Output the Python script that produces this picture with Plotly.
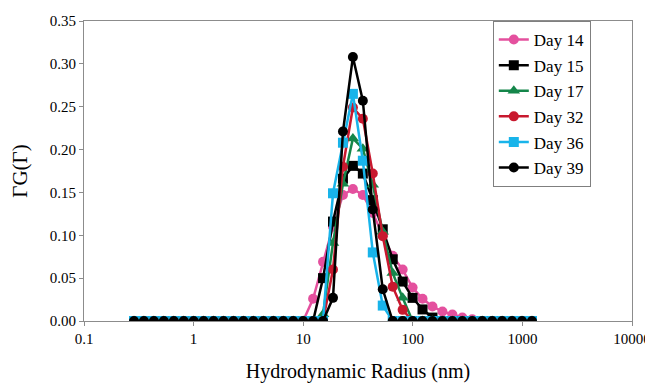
import plotly.graph_objects as go

# Hydrodynamic radius grid (nm), log spaced
radius_nm = [0.286, 0.352, 0.434, 0.535, 0.660, 0.813, 1.002, 1.235, 1.522, 1.876,
             2.312, 2.850, 3.512, 4.329, 5.335, 6.576, 8.105, 9.99, 12.31, 15.17,
             18.70, 23.05, 28.41, 35.01, 43.15, 53.19, 65.55, 80.79, 99.54, 122.7,
             151.2, 186.4, 229.7, 283.1, 348.9, 430.0, 530.0, 653.3, 805.1, 992.2, 1223.0]

z18 = [0.0] * 18
day14 = z18 + [0.026, 0.069, 0.110, 0.147, 0.154, 0.147, 0.126, 0.100, 0.076, 0.060,
               0.039, 0.026, 0.017, 0.011, 0.0076, 0.004, 0.002, 0.0, 0.0, 0.0, 0.0, 0.0, 0.0]
day15 = z18 + [0.0, 0.050, 0.116, 0.166, 0.181, 0.172, 0.141, 0.107, 0.072, 0.046,
               0.027, 0.0135, 0.004, 0.0, 0.0, 0.0, 0.0, 0.0, 0.0, 0.0, 0.0, 0.0, 0.0]
day17 = z18 + [0.0, 0.008, 0.091, 0.160, 0.213, 0.201, 0.159, 0.104, 0.056, 0.027,
               0.0, 0.0, 0.0, 0.0, 0.0, 0.0, 0.0, 0.0, 0.0, 0.0, 0.0, 0.0, 0.0]
day32 = z18 + [0.0, 0.0, 0.060, 0.180, 0.249, 0.236, 0.172, 0.099, 0.040, 0.013,
               0.0, 0.0, 0.0, 0.0, 0.0, 0.0, 0.0, 0.0, 0.0, 0.0, 0.0, 0.0, 0.0]
day36 = z18 + [0.0, 0.0, 0.149, 0.208, 0.265, 0.187, 0.080, 0.018, 0.0, 0.0,
               0.0, 0.0, 0.0, 0.0, 0.0, 0.0, 0.0, 0.0, 0.0, 0.0, 0.0, 0.0, 0.0]
day39 = z18 + [0.0, 0.0, 0.027, 0.221, 0.308, 0.257, 0.130, 0.037, 0.0, 0.0,
               0.0, 0.0, 0.0, 0.0, 0.0, 0.0, 0.0, 0.0, 0.0, 0.0, 0.0, 0.0, 0.0]

series_names = ["Day 14", "Day 15", "Day 17", "Day 32", "Day 36", "Day 39"]
series_values = [day14, day15, day17, day32, day36, day39]
colors = ["#E4509E", "#000000", "#14864A", "#C8182E", "#18B4EA", "#000000"]
symbols = ["circle", "square", "triangle-up", "circle", "square", "circle"]

y_ticks = [0.0, 0.05, 0.10, 0.15, 0.20, 0.25, 0.30, 0.35]
y_tick_labels = ["0.00", "0.05", "0.10", "0.15", "0.20", "0.25", "0.30", "0.35"]
x_ticks = [0.1, 1, 10, 100, 1000, 10000]
x_tick_labels = ["0.1", "1", "10", "100", "1000", "10000"]

font_family = "Liberation Serif, Times New Roman, serif"

fig = go.Figure()
for i, (name, vals, col, sym) in enumerate(zip(series_names, series_values, colors, symbols)):
    fig.add_trace(go.Scatter(
        x=radius_nm, y=vals, name=name, mode="lines+markers",
        line=dict(color=col, width=2.5),
        marker=dict(color=col, symbol=sym, size=10 if sym != "triangle-up" else 11,
                    line=dict(width=0)),
        legendgroup=f"g{i}",
    ))

# page body adds an 8px offset; figure sized to fill the remaining window
fig.update_layout(
    width=645, height=375,
    margin=dict(l=76, r=21, t=12.5, b=61.5, autoexpand=False),
    paper_bgcolor="white", plot_bgcolor="white",
    font=dict(family=font_family, color="#000000", size=14),
    showlegend=True,
    legend=dict(
        x=0.746, y=1.0, xanchor="left", yanchor="top",
        bordercolor="#7f7f7f", borderwidth=1, bgcolor="white",
        font=dict(family=font_family, size=17, color="#000000"),
        tracegroupgap=0.5,
        itemwidth=30,
    ),
)

fig.update_xaxes(
    type="log", range=[-1, 4], automargin=False,
    tickvals=x_ticks, ticktext=x_tick_labels,
    showline=True, linecolor="#8c8c8c", linewidth=1, mirror=True,
    ticks="outside", ticklen=4, tickcolor="#8c8c8c",
    showgrid=False, zeroline=False,
    tickfont=dict(family=font_family, size=15, color="#000000"),
    title=dict(text="Hydrodynamic Radius (nm)", font=dict(family=font_family, size=20, color="#000000"), standoff=19),
)
fig.update_yaxes(
    range=[0, 0.35], automargin=False,
    tickvals=y_ticks, ticktext=y_tick_labels,
    showline=True, linecolor="#8c8c8c", linewidth=1, mirror=True,
    ticks="outside", ticklen=4, tickcolor="#8c8c8c",
    showgrid=False, zeroline=False,
    tickfont=dict(family=font_family, size=15, color="#000000"),
    title=dict(text="ΓG(Γ)", font=dict(family=font_family, size=21, color="#000000"), standoff=17),
)

fig.write_html("out.html")
